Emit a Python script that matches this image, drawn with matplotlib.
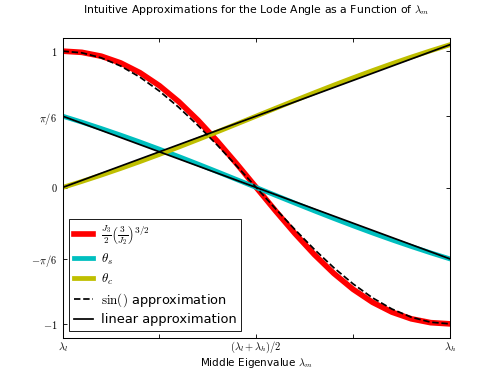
import matplotlib
matplotlib.use("Agg")
import matplotlib.pyplot as plt
import numpy as np

plt.rcParams['mathtext.fontset'] = 'cm'
plt.rcParams['font.family'] = ['DejaVu Sans']
plt.rcParams['font.size'] = 12

# middle eigenvalue as fraction between lambda_l (0) and lambda_h (1)
lam_m = [0.00, 0.05, 0.10, 0.15, 0.20, 0.25, 0.30, 0.35, 0.40, 0.45, 0.50,
         0.55, 0.60, 0.65, 0.70, 0.75, 0.80, 0.85, 0.90, 0.95, 1.00]
cos3theta = [1.0, 0.99115, 0.96304, 0.91367, 0.84169, 0.74671, 0.62948, 0.49211,
             0.33808, 0.17215, 0.0, -0.17215, -0.33808, -0.49211, -0.62948,
             -0.74671, -0.84169, -0.91367, -0.96304, -0.99115, -1.0]
theta_s = [0.52360, 0.47923, 0.43269, 0.38409, 0.33347, 0.28102, 0.22696, 0.17150,
           0.11496, 0.05767, 0.0, -0.05767, -0.11496, -0.17150, -0.22696, -0.28102,
           -0.33347, -0.38409, -0.43269, -0.47923, -0.52360]
theta_c = [0.0, 0.04437, 0.09091, 0.13951, 0.19013, 0.24258, 0.29664, 0.35210,
           0.40864, 0.46593, 0.52360, 0.58127, 0.63856, 0.69510, 0.75056, 0.80462,
           0.85707, 0.90769, 0.95629, 1.00283, 1.04720]
sin_approx = [1.0, 0.98769, 0.95106, 0.89101, 0.80902, 0.70711, 0.58779, 0.45399,
              0.30902, 0.15643, 0.0, -0.15643, -0.30902, -0.45399, -0.58779,
              -0.70711, -0.80902, -0.89101, -0.95106, -0.98769, -1.0]
lin_x = [0.0, 1.0]
lin_theta_s = [0.52360, -0.52360]
lin_theta_c = [0.0, 1.04720]

xtick_pos = [0.0, 0.25, 0.5, 0.75, 1.0]
xtick_labels = [r'$\lambda_l$', '', r'$(\lambda_l+\lambda_h)/2$', '', r'$\lambda_h$']
ytick_pos = [-1.0, -np.pi / 6, 0.0, np.pi / 6, 1.0]
ytick_labels = [r'$-1$', r'$-\pi/6$', r'$0$', r'$\pi/6$', r'$1$']

fig = plt.figure(figsize=(8, 6), dpi=62.5)
ax = fig.add_axes([0.125, 0.1, 0.775, 0.8])

ax.plot(lam_m, cos3theta, color='#ff0000', lw=6.5,
        label=r'$\frac{J_3}{2}\left(\frac{3}{J_2}\right)^{3/2}$')
ax.plot(lam_m, theta_s, color='#00bfbf', lw=5.5, label=r'$\theta_s$')
ax.plot(lam_m, theta_c, color='#bfbf00', lw=5.5, label=r'$\theta_c$')
ax.plot(lam_m, sin_approx, 'k--', lw=2, label=r'$\sin()$ approximation')
ax.plot(lin_x, lin_theta_s, 'k-', lw=2, label='linear approximation')
ax.plot(lin_x, lin_theta_c, 'k-', lw=2)

ax.set_xlim(0, 1)
ax.set_ylim(-1.1, 1.1)
ax.set_xticks(xtick_pos)
ax.set_xticklabels(xtick_labels)
ax.set_yticks(ytick_pos)
ax.set_yticklabels(ytick_labels)
ax.tick_params(direction='in', top=True, right=True, length=5, width=1,
               labelsize=12)
ax.tick_params(axis='y', pad=6)
ax.tick_params(axis='x', pad=3)
for s in ax.spines.values():
    s.set_linewidth(1.2)

ax.set_xlabel(r'Middle Eigenvalue $\lambda_m$', fontsize=12, labelpad=1)
ax.set_title(r'Intuitive Approximations for the Lode Angle as a Function of $\lambda_m$',
             fontsize=12.6, pad=28)

leg = ax.legend(loc='lower left', fancybox=False, framealpha=1, edgecolor='black',
                fontsize=15, handlelength=1.5, handletextpad=0.6,
                borderaxespad=0.5, borderpad=0.35, labelspacing=0.35)
leg.get_frame().set_linewidth(1.0)

fig.savefig('out.png', dpi=62.5)
